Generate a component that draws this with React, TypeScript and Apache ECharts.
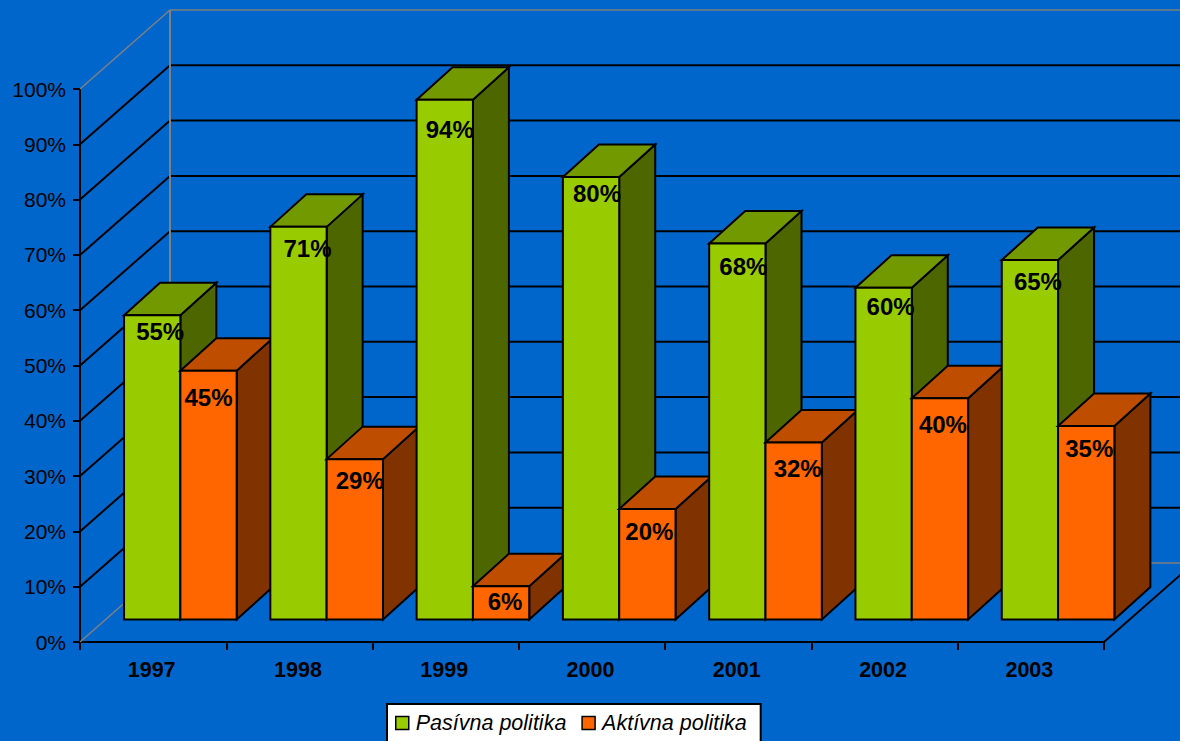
import React, { useEffect, useRef } from "react";
import * as echarts from "echarts";

const years = ["1997", "1998", "1999", "2000", "2001", "2002", "2003"];
const pasivna = [55, 71, 94, 80, 68, 60, 65];
const aktivna = [45, 29, 6, 20, 32, 40, 35];
const gridValues = [0, 10, 20, 30, 40, 50, 60, 70, 80, 90, 100];

const FONT = '"Liberation Sans", Arial, sans-serif';
const BG = "#0066CC";
const WALL_DX = 90;
const WALL_DY = -79;
const BAR_DX = 36;
const BAR_DY = -32.5;
const FLOOR_DY = -22.5;

const green = { front: "#99CC00", top: "#739900", side: "#4D6600" };
const orange = { front: "#FF6600", top: "#BF4D00", side: "#803300" };

// label placement: nudge from the bar's top centre, in pixels
const greenNudge = [[8, 16], [9, 22], [5, 30], [6, 16], [6, 23.5], [7, 19], [8, 21]];
const orangeNudge = [[0, 27], [5, 21.5], [4, 15.5], [2, 23], [4, 26], [3, 26], [3, 23]];

function wallItem(params: any, api: any) {
  const value = api.value(1);
  const cs = params.coordSys;
  const y = api.coord([0, value])[1];
  const x0 = cs.x;
  const xb = x0 + WALL_DX;
  const gray = value === 0 || value === 100;
  const stroke = gray ? "#808080" : "#000000";
  const lineWidth = gray ? 1.5 : 2;
  const line = (a: number[], b: number[], s = stroke, w = lineWidth) => ({
    type: "line",
    shape: { x1: a[0], y1: a[1], x2: b[0], y2: b[1] },
    style: { stroke: s, lineWidth: w },
    z2: -1,
  });
  const children: any[] = [
    line([x0, y], [xb, y + WALL_DY]),
    line([xb, y + WALL_DY], [cs.x + cs.width + WALL_DX, y + WALL_DY]),
  ];
  if (value === 100) {
    const yBottom = cs.y + cs.height + WALL_DY;
    children.push(line([xb, y + WALL_DY], [xb, yBottom], "#808080", 2));
  }
  if (value === 0) {
    children.push(
      line(
        [cs.x + cs.width, y],
        [cs.x + cs.width + WALL_DX, y + WALL_DY],
        "#000000",
        2
      )
    );
  }
  return { type: "group", children };
}

function barRenderer(
  startFrac: number,
  endFrac: number,
  colors: { front: string; top: string; side: string },
  nudge: number[][],
  order: number
) {
  return (params: any, api: any) => {
    const cat = api.value(0);
    const val = api.value(1);
    const band = api.size([1, 0])[0];
    const top = api.coord([cat, val]);
    const base = api.coord([cat, 0]);
    const xL = top[0] + startFrac * band;
    const xR = top[0] + endFrac * band;
    const yT = top[1] + FLOOR_DY;
    const yB = base[1] + FLOOR_DY;
    const z2 = cat * 2 + order;
    const style = (fill: string) => ({ fill, stroke: "#000", lineWidth: 2 });
    const poly = (points: number[][], fill: string) => ({
      type: "polygon",
      shape: { points },
      style: style(fill),
      z2,
    });
    return {
      type: "group",
      children: [
        poly(
          [[xR, yT], [xR + BAR_DX, yT + BAR_DY], [xR + BAR_DX, yB + BAR_DY], [xR, yB]],
          colors.side
        ),
        poly(
          [[xL, yT], [xL + BAR_DX, yT + BAR_DY], [xR + BAR_DX, yT + BAR_DY], [xR, yT]],
          colors.top
        ),
        poly([[xL, yT], [xR, yT], [xR, yB], [xL, yB]], colors.front),
        {
          type: "text",
          z2: 100,
          style: {
            text: val + "%",
            x: (xL + xR) / 2 + nudge[cat][0],
            y: yT + nudge[cat][1],
            align: "center",
            verticalAlign: "middle",
            fill: "#000",
            font: `bold 24px ${FONT}`,
          },
        },
      ],
    };
  };
}

export default function App() {
  const ref = useRef<HTMLDivElement>(null);

  useEffect(() => {
    document.body.style.margin = "0";
    document.body.style.overflow = "hidden";
    const chart = echarts.init(ref.current!, null, { renderer: "svg" });
    chart.setOption({
      animation: false,
      backgroundColor: BG,
      textStyle: { fontFamily: FONT },
      grid: { left: 80, top: 89, width: 1024, height: 553, containLabel: false },
      legend: {
        data: ["Pasívna politika", "Aktívna politika"],
        left: 387,
        top: 704,
        orient: "horizontal",
        backgroundColor: "#fff",
        borderColor: "#000",
        borderWidth: 2,
        padding: [8, 14, 20, 8],
        itemWidth: 13,
        itemHeight: 13,
        itemGap: 15,
        icon: "rect",
        selectedMode: false,
        itemStyle: { borderColor: "#000", borderWidth: 1.5 },
        textStyle: {
          fontFamily: FONT,
          fontSize: 21.5,
          fontStyle: "italic",
          color: "#000",
          padding: [0, 0, 0, 2],
        },
      },
      xAxis: {
        type: "category",
        data: years,
        boundaryGap: true,
        axisLine: { lineStyle: { color: "#000", width: 2 } },
        axisTick: { show: true, length: 8, lineStyle: { color: "#000", width: 2 } },
        axisLabel: {
          color: "#000",
          fontFamily: FONT,
          fontWeight: "bold",
          fontSize: 21.5,
          margin: 17,
          padding: [0, 3, 0, 0],
        },
        splitLine: { show: false },
      },
      yAxis: {
        type: "value",
        min: 0,
        max: 100,
        interval: 10,
        axisLine: { show: true, lineStyle: { color: "#000", width: 2 } },
        axisTick: { show: true, length: 7, lineStyle: { color: "#000", width: 2 } },
        axisLabel: {
          color: "#000",
          fontFamily: FONT,
          fontSize: 21,
          margin: 14,
          padding: [0, 0, 3, 0],
          formatter: "{value}%",
        },
        splitLine: { show: false },
      },
      series: [
        {
          name: "walls",
          type: "custom",
          clip: false,
          silent: true,
          renderItem: wallItem,
          data: gridValues.map((v) => [0, v]),
        },
        {
          name: "Pasívna politika",
          type: "custom",
          clip: false,
          itemStyle: { color: green.front },
          renderItem: barRenderer(-0.199, 0.186, green, greenNudge, 0),
          data: pasivna.map((v, i) => [i, v]),
        },
        {
          name: "Aktívna politika",
          type: "custom",
          clip: false,
          itemStyle: { color: orange.front },
          renderItem: barRenderer(0.186, 0.571, orange, orangeNudge, 1),
          data: aktivna.map((v, i) => [i, v]),
        },
      ],
    });
    return () => chart.dispose();
  }, []);

  return <div ref={ref} style={{ width: 1180, height: 741 }} />;
}
